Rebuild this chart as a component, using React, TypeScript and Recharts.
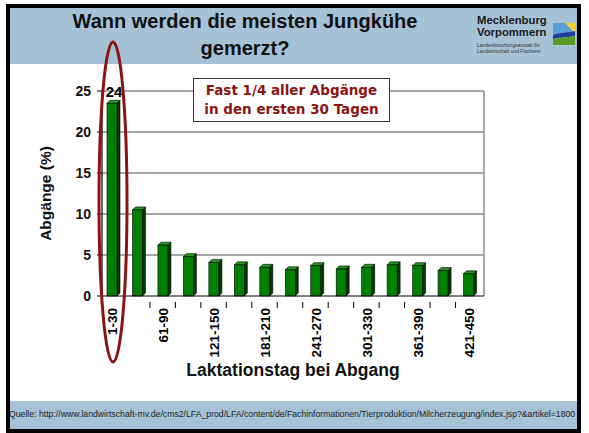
import React from "react"
import {
  BarChart,
  Bar,
  XAxis,
  YAxis,
  CartesianGrid,
  LabelList,
} from "recharts"

// ─── Data ──────────────────────────────────────────────────────────────────────

const categories = [
  "1-30", "31-60", "61-90", "91-120", "121-150", "151-180", "181-210", "211-240",
  "241-270", "271-300", "301-330", "331-360", "361-390", "391-420", "421-450",
]
const abgaenge = [23.5, 10.5, 6.2, 4.8, 4.1, 3.8, 3.5, 3.2, 3.7, 3.3, 3.5, 3.8, 3.7, 3.1, 2.7]
const yTicks = [0, 5, 10, 15, 20, 25]

const data = categories.map((c, i) => ({ cat: c, value: abgaenge[i] }))

// ─── Layout constants ─────────────────────────────────────────────────────────

const W = 589
const H = 433
const PLOT_LEFT = 102
const PLOT_RIGHT = 484
const PLOT_TOP = 91
const PLOT_BOTTOM = 296
const X_AXIS_H = 80
const BAND = (PLOT_RIGHT - PLOT_LEFT) / categories.length
const FONT = "'Liberation Sans', Arial, sans-serif"
const DARK_RED = "#8b1414"
const HEADER_BLUE = "#a5c2d6"

// ─── Bar shape (3D look) ───────────────────────────────────────────────────────

function Bar3D(props: any) {
  const { x, y, width, height } = props
  const d = 3
  const fx = x - 3
  return (
    <g stroke="#000" strokeWidth={0.6}>
      <polygon
        points={`${fx + width},${y} ${fx + width + d},${y - d} ${fx + width + d},${y + height - d} ${fx + width},${y + height}`}
        fill="#003a00"
      />
      <polygon
        points={`${fx},${y} ${fx + d},${y - d} ${fx + width + d},${y - d} ${fx + width},${y}`}
        fill="#1f9a1f"
      />
      <rect x={fx} y={y} width={width} height={height} fill="#008000" />
    </g>
  )
}

function XTick(props: any) {
  const { x, y, index, payload } = props
  return (
    <g>
      {index < categories.length - 1 && (
        <line x1={x + BAND / 2 - 3} x2={x + BAND / 2 - 3} y1={y - 2} y2={y + 4} stroke="#000" strokeWidth={1} />
      )}
      {index % 2 === 0 && (
        <text
          x={x - 2}
          y={y + 4}
          transform={`rotate(-90, ${x - 2}, ${y + 4})`}
          textAnchor="end"
          dominantBaseline="central"
          fontFamily={FONT}
          fontWeight="bold"
          fontSize={13.5}
          fill="#000"
        >
          {payload.value}
        </text>
      )}
    </g>
  )
}

function TopLabel(props: any) {
  const { x, y, width, value, index } = props
  if (index !== 0) return null
  return (
    <text
      x={x + width / 2 - 1}
      y={y - 6}
      textAnchor="middle"
      fontFamily={FONT}
      fontWeight="bold"
      fontSize={15}
      fill="#000"
    >
      {Math.round(value)}
    </text>
  )
}

// ─── Logo ──────────────────────────────────────────────────────────────────────

function Logo() {
  return (
    <div style={{ position: "absolute", left: 477, top: 14, width: 100, height: 50, fontFamily: FONT }}>
      <div style={{ fontWeight: "bold", fontSize: 11.3, lineHeight: "12px", color: "#1a1a1a" }}>Mecklenburg</div>
      <div style={{ fontWeight: "bold", fontSize: 11.3, lineHeight: "12px", color: "#1a1a1a" }}>Vorpommern</div>
      <div style={{ fontSize: 5, lineHeight: "6px", color: "#333", marginTop: 4 }}>Landesforschungsanstalt für</div>
      <div style={{ fontSize: 5, lineHeight: "6px", color: "#333" }}>Landwirtschaft und Fischerei</div>
      <svg width={22} height={22} style={{ position: "absolute", left: 76, top: 9 }}>
        <rect x={0} y={0} width={22} height={22} fill="#e8eef4" stroke="#555" strokeWidth={0.5} />
        <polygon points="0,0 22,0 22,8 0,12" fill="#5aa0d8" />
        <polygon points="12,0 22,0 22,10" fill="#f2d22a" />
        <path d="M0,12 C8,9 14,10 22,8 L22,13 C14,15 8,14 0,16 Z" fill="#1f3f9a" />
        <polygon points="0,16 22,13 22,22 0,22" fill="#5a9a2a" />
      </svg>
    </div>
  )
}

// ─── App ───────────────────────────────────────────────────────────────────────

export default function App() {
  return (
    <div style={{ position: "relative", width: W, height: H, background: "#fff", overflow: "hidden" }}>
      <style>{`body { margin: 0; }`}</style>

      {/* frame and bands */}
      <div style={{ position: "absolute", left: 10, top: 8, width: 567, height: 56, background: HEADER_BLUE }} />
      <div style={{ position: "absolute", left: 10, top: 401, width: 567, height: 28, background: HEADER_BLUE }} />

      {/* title */}
      <div
        style={{
          position: "absolute",
          left: 60,
          top: 8,
          width: 370,
          textAlign: "center",
          fontFamily: FONT,
          fontWeight: "bold",
          fontSize: 20,
          lineHeight: "27px",
          color: "#111",
        }}
      >
        Wann werden die meisten Jungkühe<br />gemerzt?
      </div>
      <Logo />

      {/* footer */}
      <div
        style={{
          position: "absolute",
          left: 9,
          top: 409,
          width: 568,
          whiteSpace: "nowrap",
          overflow: "hidden",
          fontFamily: FONT,
          fontSize: 8.7,
          color: "#222",
        }}
      >
        Quelle: http://www.landwirtschaft-mv.de/cms2/LFA_prod/LFA/content/de/Fachinformationen/Tierproduktion/Milcherzeugung/index.jsp?&artikel=1800
      </div>
      <div style={{ position: "absolute", left: 6, top: 4, width: 567, height: 421, border: "4px solid #000", boxSizing: "content-box" }} />

      <div style={{ position: "absolute", left: 0, top: 0 }}>
        <BarChart
          width={W}
          height={H}
          data={data}
          margin={{ top: PLOT_TOP, right: W - PLOT_RIGHT, bottom: H - PLOT_BOTTOM - X_AXIS_H, left: PLOT_LEFT - 60 }}
          barCategoryGap={0}
        >
          <CartesianGrid
            stroke="#8a8a8a"
            strokeWidth={1.5}
            horizontalValues={yTicks.slice(1)}
            verticalCoordinatesGenerator={({ offset }: any) => [offset.left + offset.width]}
          />
          <XAxis
            dataKey="cat"
            interval={0}
            height={X_AXIS_H}
            tickLine={false}
            axisLine={{ stroke: "#000", strokeWidth: 1.2 }}
            tick={<XTick />}
            label={{
              value: "Laktationstag bei Abgang",
              position: "insideBottom",
              offset: 0,
              fontFamily: FONT,
              fontWeight: "bold",
              fontSize: 17.5,
              fill: "#111",
            }}
          />
          <YAxis
            width={60}
            domain={[0, 25]}
            ticks={yTicks}
            tickSize={5}
            tickMargin={6}
            axisLine={{ stroke: "#000", strokeWidth: 1.2 }}
            tickLine={{ stroke: "#000" }}
            tick={{ fontFamily: FONT, fontWeight: "bold", fontSize: 14, fill: "#111" }}
            label={{
              value: "Abgänge (%)",
              angle: -90,
              position: "insideLeft",
              offset: 3,
              fontFamily: FONT,
              fontWeight: "bold",
              fontSize: 15.5,
              fill: "#111",
              style: { textAnchor: "middle" },
            }}
          />
          <Bar dataKey="value" barSize={10} shape={<Bar3D />} isAnimationActive={false}>
            <LabelList dataKey="value" content={<TopLabel />} />
          </Bar>
        </BarChart>
      </div>

      {/* annotation box */}
      <div
        style={{
          position: "absolute",
          left: 193,
          top: 78,
          width: 197,
          height: 44,
          background: "#fff",
          border: "1px solid #333",
          fontFamily: "'Comic Sans MS', 'DejaVu Sans', sans-serif",
          fontWeight: "bold",
          fontSize: 13.5,
          lineHeight: "19px",
          color: DARK_RED,
          textAlign: "center",
          paddingTop: 2,
          boxSizing: "border-box",
        }}
      >
        Fast 1/4 aller Abgänge<br />in den ersten 30 Tagen
      </div>

      {/* highlight ellipse */}
      <svg width={W} height={H} style={{ position: "absolute", left: 0, top: 0, pointerEvents: "none" }}>
        <ellipse cx={113} cy={202} rx={14} ry={160} fill="none" stroke={DARK_RED} strokeWidth={3} />
      </svg>
    </div>
  )
}
